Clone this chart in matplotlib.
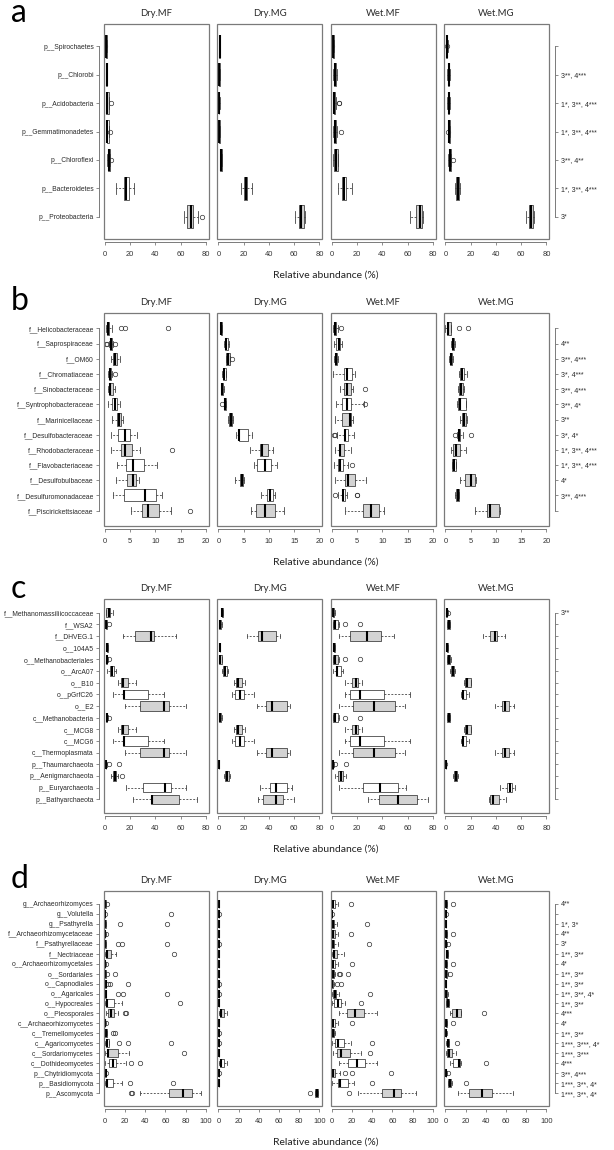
import matplotlib
matplotlib.use('Agg')
import matplotlib.pyplot as plt
from matplotlib.patches import Rectangle

plt.rcParams['font.family'] = ['Liberation Sans', 'DejaVu Sans']

# each row: (whisker low, q1, median, q3, whisker high, [outliers]) - listed top to bottom
groups = ["Dry.MF", "Dry.MG", "Wet.MF", "Wet.MG"]

# ---- panel a: phyla ----
a_cats = ["p__Spirochaetes", "p__Chlorobi", "p__Acidobacteria", "p__Gemmatimonadetes",
          "p__Chloroflexi", "p__Bacteroidetes", "p__Proteobacteria"]
a_sig = ["", "3**, 4***", "1*, 3**, 4***", "1*, 3**, 4***", "3**, 4**", "1*, 3**, 4***", "3*"]
a_dry_mf = [(0.8, 1.0, 1.2, 1.4, 1.6, [0.3]), (1.0, 1.2, 1.5, 1.8, 2.0, []),
            (0.8, 1.2, 2.0, 3.0, 3.5, [5.0]), (1.0, 1.5, 2.0, 3.0, 3.3, [4.0]),
            (2.0, 2.5, 3.0, 4.0, 4.3, [4.8]), (9.0, 15.0, 16.5, 19.0, 23.0, []),
            (63.0, 65.0, 68.0, 70.0, 74.0, [77.0])]
a_dry_mg = [(0.7, 0.8, 0.9, 1.0, 1.1, []), (0.6, 0.7, 0.8, 0.9, 1.0, []),
            (0.5, 0.6, 0.7, 0.8, 0.9, []), (0.6, 0.7, 0.8, 0.9, 1.0, []),
            (1.2, 1.5, 2.0, 3.0, 3.2, []), (18.0, 20.5, 21.5, 23.0, 27.0, []),
            (60.5, 63.5, 65.5, 67.5, 69.0, [])]
a_wet_mf = [(0.3, 0.5, 1.0, 1.5, 2.0, [0.0]), (1.0, 1.5, 2.5, 3.5, 4.0, []),
            (1.0, 1.5, 2.0, 2.5, 3.0, [5.5, 6.0]), (1.0, 1.5, 2.5, 3.5, 4.0, [7.5]),
            (1.0, 1.5, 3.5, 4.5, 5.0, []), (4.5, 8.0, 9.5, 11.0, 16.0, []),
            (62.0, 67.0, 69.5, 71.5, 72.5, [])]
a_wet_mg = [(0.3, 0.5, 1.0, 1.5, 2.0, [1.5]), (1.5, 2.0, 2.5, 3.0, 3.5, []),
            (1.5, 2.0, 2.5, 3.0, 3.5, []), (2.3, 2.5, 3.0, 3.5, 3.8, [1.8]),
            (2.3, 2.5, 3.5, 4.5, 4.8, [6.0]), (7.5, 8.0, 10.0, 11.0, 11.5, []),
            (64.0, 66.5, 67.5, 69.5, 70.5, [])]

# ---- panel b: bacterial families ----
b_cats = ["f__Helicobacteraceae", "f__Saprospiraceae", "f__OM60", "f__Chromatiaceae",
          "f__Sinobacteraceae", "f__Syntrophobacteraceae", "f__Marinicellaceae",
          "f__Desulfobacteraceae", "f__Rhodobacteraceae", "f__Flavobacteriaceae",
          "f__Desulfobulbaceae", "f__Desulfuromonadaceae", "f__Piscirickettsiaceae"]
b_sig = ["", "4**", "3**, 4***", "3*, 4***", "3**, 4***", "3**, 4*", "3**", "3*, 4*",
         "1*, 3**, 4***", "1*, 3**, 4***", "4*", "3**, 4***", ""]
b_dry_mf = [(0.2, 0.5, 0.7, 0.9, 1.5, [3.2, 4.0, 12.5]), (0.8, 1.0, 1.3, 1.5, 1.6, [0.3, 0.5, 1.9]),
            (1.2, 1.6, 1.9, 2.3, 3.0, []), (0.7, 0.9, 1.1, 1.3, 1.5, [2.0]),
            (0.6, 0.8, 1.1, 1.6, 1.9, []), (0.7, 1.5, 1.9, 2.3, 3.0, []),
            (1.5, 2.3, 2.8, 3.1, 3.5, []), (1.3, 2.6, 3.9, 4.9, 6.3, []),
            (1.3, 3.2, 3.9, 5.3, 6.9, [13.3]), (2.4, 4.2, 5.6, 7.7, 10.4, []),
            (2.2, 4.4, 5.5, 6.1, 6.7, []), (1.6, 3.8, 8.0, 10.2, 11.4, []),
            (5.1, 7.4, 8.6, 10.7, 13.0, [16.9])]
b_dry_mg = [(0.5, 0.5, 0.6, 0.7, 0.7, []), (1.1, 1.3, 1.6, 1.9, 2.0, []),
            (1.5, 1.6, 1.9, 2.2, 2.3, [2.6]), (0.8, 0.9, 1.2, 1.5, 1.6, []),
            (0.5, 0.6, 0.8, 1.0, 1.1, []), (1.2, 1.2, 1.4, 1.5, 1.6, [0.8]),
            (1.9, 2.1, 2.4, 2.7, 2.9, []), (3.4, 4.0, 4.1, 5.8, 6.6, []),
            (6.3, 8.2, 8.6, 9.9, 10.9, []), (7.0, 7.7, 9.3, 10.5, 11.6, []),
            (3.3, 4.3, 4.6, 4.9, 5.1, []), (8.5, 9.6, 10.3, 10.8, 11.2, []),
            (6.5, 7.4, 9.3, 11.2, 13.0, [])]
b_wet_mf = [(0.2, 0.4, 0.6, 0.9, 1.2, [1.8]), (0.5, 0.9, 1.5, 1.7, 2.0, []),
            (0.4, 0.6, 0.8, 1.1, 1.3, []), (0.3, 2.4, 2.9, 4.0, 4.6, []),
            (1.6, 2.4, 3.0, 3.8, 4.1, [6.5]), (0.8, 2.0, 2.9, 3.8, 6.3, [6.6]),
            (0.6, 2.0, 3.6, 3.7, 4.1, []), (1.0, 2.3, 2.6, 3.2, 4.4, [0.5, 0.6]),
            (0.7, 1.4, 1.7, 2.4, 3.7, []), (0.5, 1.3, 1.7, 2.2, 3.2, [4.0]),
            (0.6, 2.6, 3.1, 4.6, 6.8, []), (1.2, 1.9, 2.2, 2.6, 3.0, [0.7, 4.9, 5.0]),
            (2.5, 6.2, 7.7, 9.4, 10.3, [])]
b_wet_mg = [(0.0, 0.3, 0.6, 1.1, 1.2, [2.6, 4.4]), (1.2, 1.3, 1.5, 1.7, 1.8, []),
            (0.8, 0.9, 1.1, 1.4, 1.6, []), (2.6, 2.8, 3.3, 3.6, 4.2, []),
            (2.5, 2.7, 3.0, 3.4, 3.7, []), (2.2, 2.4, 2.8, 4.0, 4.1, []),
            (2.9, 3.3, 3.7, 4.0, 4.3, []), (2.2, 2.4, 2.7, 2.9, 3.5, [1.9, 5.1]),
            (1.1, 1.6, 2.0, 2.9, 4.0, []), (1.3, 1.4, 1.7, 2.0, 2.1, []),
            (2.8, 3.9, 5.0, 5.8, 6.0, []), (1.9, 2.1, 2.4, 2.6, 2.7, []),
            (5.9, 8.3, 8.9, 10.6, 10.8, [])]

# ---- panel c: archaea ----
c_cats = ["f__Methanomassiliicoccaceae", "f__WSA2", "f__DHVEG.1", "o__104A5",
          "o__Methanobacteriales", "o__ArcA07", "o__B10", "o__pGrfC26", "o__E2",
          "c__Methanobacteria", "c__MCG8", "c__MCG6", "c__Thermoplasmata",
          "p__Thaumarchaeota", "p__Aenigmarchaeota", "p__Euryarchaeota", "p__Bathyarchaeota"]
c_sig = ["3**", "", "", "", "", "", "", "", "", "", "", "", "", "", "", "", ""]
c_dry_mf = [(0.5, 0.7, 3.5, 4.0, 6.5, []), (0.3, 0.5, 1.0, 1.5, 2.0, [3.5]),
            (14.5, 24.0, 36.5, 39.0, 56.0, []), (1.5, 1.7, 2.0, 2.3, 2.5, []),
            (0.8, 1.0, 1.5, 2.0, 2.3, [3.5]), (2.0, 4.0, 5.5, 7.0, 9.0, []),
            (10.5, 13.0, 14.5, 18.0, 24.5, []), (6.5, 14.0, 15.0, 34.5, 47.0, []),
            (16.0, 28.0, 47.0, 51.0, 64.0, []), (0.8, 1.0, 1.5, 2.0, 2.3, [3.5]),
            (10.5, 13.0, 14.5, 18.0, 24.5, []), (6.5, 14.0, 15.0, 34.5, 47.0, []),
            (16.0, 28.0, 47.0, 51.0, 64.0, []), (0.3, 0.5, 0.8, 1.0, 1.3, [3.0, 11.0]),
            (4.5, 6.5, 8.0, 9.0, 10.0, [13.5]), (16.5, 30.0, 47.5, 52.0, 64.5, []),
            (22.0, 36.5, 37.5, 59.0, 73.0, [])]
c_dry_mg = [(2.5, 2.6, 3.0, 3.4, 3.5, []), (0.5, 0.7, 1.2, 2.0, 3.0, []),
            (23.0, 31.0, 34.5, 46.0, 49.0, []), (0.8, 0.9, 1.0, 1.1, 1.2, []),
            (0.5, 0.8, 1.5, 2.5, 3.0, []), (3.0, 3.5, 5.0, 6.5, 7.5, []),
            (12.5, 14.0, 15.5, 18.5, 21.0, []), (10.5, 13.0, 17.0, 20.0, 28.5, []),
            (30.5, 38.0, 42.5, 54.0, 57.0, []), (0.5, 0.7, 1.2, 2.0, 3.0, []),
            (12.5, 14.0, 15.5, 18.5, 21.0, []), (10.5, 13.0, 17.0, 20.0, 28.5, []),
            (30.5, 38.0, 42.5, 54.0, 57.0, []), (0.3, 0.4, 0.5, 0.6, 0.7, []),
            (4.5, 5.0, 7.0, 8.0, 9.5, []), (33.0, 41.0, 45.5, 54.0, 58.0, []),
            (31.0, 35.5, 46.0, 51.5, 60.0, [])]
c_wet_mf = [(0.3, 0.5, 1.0, 2.0, 2.5, []), (0.5, 1.0, 2.5, 4.5, 5.5, [10.5, 22.5]),
            (5.5, 14.5, 27.5, 38.5, 49.0, []), (1.2, 1.5, 2.0, 2.3, 2.6, []),
            (0.5, 1.0, 2.5, 5.0, 6.0, [10.5, 22.5]), (0.5, 3.0, 4.0, 7.0, 9.0, []),
            (10.0, 16.0, 19.0, 21.0, 24.0, []), (10.5, 14.5, 22.0, 41.0, 61.5, []),
            (5.5, 16.5, 33.5, 50.0, 58.0, []), (0.5, 1.0, 2.5, 4.5, 5.5, [10.5, 22.5]),
            (10.0, 16.0, 19.0, 21.0, 24.0, []), (10.5, 14.5, 22.0, 41.0, 61.5, []),
            (5.5, 16.5, 33.5, 50.0, 58.0, []), (0.2, 0.4, 0.6, 1.0, 1.3, [2.5, 11.5]),
            (2.5, 5.0, 7.0, 9.0, 11.0, []), (5.5, 25.0, 38.0, 52.0, 59.0, []),
            (28.5, 37.0, 52.0, 67.5, 76.0, [])]
c_wet_mg = [(0.3, 0.5, 1.0, 1.5, 1.7, [2.3]), (1.2, 1.5, 2.5, 3.5, 3.8, []),
            (29.5, 35.5, 39.0, 41.0, 47.0, []), (1.2, 1.3, 1.5, 1.7, 1.8, []),
            (1.0, 1.5, 2.5, 4.0, 4.3, []), (4.0, 4.5, 6.0, 7.0, 7.5, []),
            (14.5, 15.5, 17.5, 20.0, 20.5, []), (12.0, 13.0, 14.0, 16.0, 19.0, []),
            (39.0, 44.5, 47.0, 50.0, 54.0, []), (1.2, 1.5, 2.5, 3.5, 3.8, []),
            (14.5, 15.5, 17.5, 20.0, 20.5, []), (12.0, 13.0, 14.0, 16.0, 19.0, []),
            (39.0, 44.5, 47.0, 50.0, 54.0, []), (0.2, 0.3, 0.4, 0.5, 0.6, [0.0]),
            (6.0, 6.5, 8.0, 9.5, 10.0, []), (43.5, 48.5, 51.0, 52.5, 55.0, []),
            (34.5, 35.5, 38.0, 42.5, 48.0, [])]

# ---- panel d: fungi ----
d_cats = ["g__Archaeorhizomyces", "g__Volutella", "g__Psathyrella", "f__Archaeorhizomycetaceae",
          "f__Psathyrellaceae", "f__Nectriaceae", "o__Archaeorhizomycetales", "o__Sordariales",
          "o__Capnodiales", "o__Agaricales", "o__Hypocreales", "o__Pleosporales",
          "c__Archaeorhizomycetes", "c__Tremellomycetes", "c__Agaricomycetes",
          "c__Sordariomycetes", "c__Dothideomycetes", "p__Chytridiomycota",
          "p__Basidiomycota", "p__Ascomycota"]
d_sig = ["4**", "", "1*, 3*", "4**", "3*", "1**, 3**", "4*", "1**, 3**", "1**, 3**",
         "1**, 3**, 4*", "1**, 3**", "4***", "4*", "1**, 3**", "1***, 3***, 4*",
         "1***, 3***", "4***", "3**, 4***", "1***, 3**, 4*", "1***, 3**, 4*"]
d_dry_mf = [(0.2, 0.3, 0.5, 0.8, 1.0, [1.8]), (0.0, 0.1, 0.2, 0.4, 0.5, [0.3, 65.5]),
            (0.2, 0.3, 0.5, 0.8, 1.0, [14.5, 61.0]), (0.1, 0.2, 0.3, 0.5, 0.6, [1.5]),
            (0.2, 0.3, 0.5, 0.8, 1.0, [13.0, 17.0, 61.0]), (0.5, 1.0, 2.0, 6.0, 10.5, [68.0]),
            (0.1, 0.2, 0.3, 0.5, 0.6, [1.5]), (0.2, 0.3, 0.5, 0.8, 1.0, [2.0, 10.0]),
            (0.3, 0.5, 0.8, 1.2, 1.5, [3.0, 5.0, 22.5]), (0.2, 0.4, 0.6, 1.0, 1.2, [13.0, 18.0, 61.0]),
            (0.5, 1.0, 2.0, 9.0, 17.0, [74.0]), (1.0, 3.0, 6.0, 9.0, 13.0, [19.5, 21.0]),
            (0.1, 0.2, 0.3, 0.5, 0.6, [1.5]), (0.3, 0.5, 1.0, 2.0, 2.3, [8.5, 9.5]),
            (0.5, 1.0, 2.0, 4.0, 4.5, [14.0, 22.5, 65.0]), (0.5, 2.0, 3.5, 13.0, 24.0, [78.0]),
            (0.5, 4.0, 8.5, 11.0, 21.0, [26.0, 35.0]), (0.3, 0.5, 0.8, 1.0, 1.2, [1.3]),
            (0.5, 1.0, 2.5, 8.0, 17.0, [25.0, 67.0]), (35.0, 63.0, 77.0, 86.0, 95.0, [25.5, 26.5])]
d_dry_mg = [(0.2, 0.2, 0.3, 0.4, 0.5, []), (0.2, 0.2, 0.3, 0.4, 0.5, [0.3]),
            (0.2, 0.2, 0.3, 0.4, 0.5, []), (0.2, 0.2, 0.3, 0.4, 0.5, []),
            (0.2, 0.2, 0.3, 0.4, 0.5, [0.3]), (0.2, 0.2, 0.3, 0.4, 0.5, []),
            (0.2, 0.2, 0.3, 0.4, 0.5, []), (0.2, 0.2, 0.3, 0.4, 0.5, []),
            (0.2, 0.2, 0.3, 0.4, 0.5, [0.3]), (0.2, 0.2, 0.3, 0.4, 0.5, [0.3]),
            (0.2, 0.2, 0.3, 0.4, 0.5, []), (1.0, 1.5, 3.0, 6.0, 8.5, []),
            (0.2, 0.2, 0.3, 0.4, 0.5, []), (0.2, 0.2, 0.3, 0.4, 0.5, [0.3]),
            (0.2, 0.2, 0.3, 0.4, 0.5, [0.3]), (0.2, 0.2, 0.3, 0.4, 0.5, []),
            (1.0, 1.5, 3.0, 5.5, 8.5, []), (0.2, 0.2, 0.3, 0.4, 0.5, [0.3]),
            (0.2, 0.2, 0.3, 0.4, 0.5, []), (95.5, 96.0, 97.5, 98.5, 99.0, [90.8])]
d_wet_mf = [(0.0, 0.3, 0.8, 3.0, 6.0, [19.0]), (0.0, 0.1, 0.2, 0.4, 0.5, [0.3]),
            (0.0, 0.3, 0.8, 2.0, 5.0, [35.0]), (0.0, 0.3, 0.8, 3.0, 6.0, [19.0]),
            (0.0, 0.3, 0.8, 2.0, 6.0, [37.0]), (0.0, 1.0, 2.5, 5.0, 12.0, []),
            (0.0, 0.3, 0.8, 3.0, 6.0, [20.0]), (0.0, 0.3, 1.0, 2.0, 3.0, [7.0, 8.0, 15.5]),
            (0.0, 0.2, 0.5, 1.5, 2.0, [5.0, 9.0]), (0.5, 1.5, 3.0, 4.5, 7.0, [38.0]),
            (0.0, 2.0, 6.0, 9.0, 13.0, [28.5]), (7.0, 15.0, 23.0, 32.0, 45.0, []),
            (0.0, 0.3, 0.8, 3.0, 6.0, [20.0]), (0.0, 0.3, 1.0, 2.0, 3.0, []),
            (0.5, 3.0, 6.0, 12.0, 19.0, [39.5]), (1.0, 5.0, 9.0, 18.0, 29.0, [38.0]),
            (7.0, 16.0, 25.0, 33.0, 45.0, []), (0.0, 0.5, 1.5, 3.5, 8.0, [12.5, 20.0, 59.0]),
            (0.5, 6.0, 8.5, 16.0, 22.0, [40.0]), (26.0, 50.0, 61.0, 68.0, 83.0, [16.5])]
d_wet_mg = [(0.0, 0.3, 0.8, 1.5, 1.8, [8.0]), (0.0, 0.1, 0.2, 0.4, 0.5, [0.3]),
            (0.0, 0.2, 0.4, 0.7, 0.8, []), (0.0, 0.3, 0.8, 1.5, 1.8, [8.0]),
            (0.2, 0.4, 0.7, 1.0, 1.2, [2.5]), (0.3, 0.5, 1.5, 2.5, 3.0, []),
            (0.0, 0.3, 0.8, 1.5, 1.8, [8.0]), (0.0, 0.3, 0.8, 2.0, 2.3, [5.0]),
            (0.0, 0.1, 0.3, 0.5, 0.6, []), (0.3, 0.5, 1.0, 2.0, 2.5, []),
            (0.8, 1.0, 2.5, 3.5, 4.0, []), (5.0, 7.0, 11.0, 15.0, 15.5, [38.0]),
            (0.0, 0.3, 0.8, 1.5, 1.8, [8.0]), (0.0, 0.2, 0.5, 1.0, 1.5, []),
            (1.0, 1.5, 2.5, 3.5, 4.0, [11.0]), (1.0, 2.0, 4.0, 7.0, 10.0, []),
            (5.0, 8.0, 13.0, 14.0, 15.0, [40.0]), (0.0, 0.2, 0.5, 1.0, 1.2, [3.0]),
            (2.5, 3.0, 4.5, 6.0, 6.5, [20.0]), (12.0, 23.0, 36.0, 46.0, 67.0, [])]

W, H = 614, 1150
FRAME = '#7a7a7a'

fig = plt.figure(figsize=(W / 100, H / 100), dpi=100)

panel_left = [103.5, 217.0, 330.5, 444.0]
panel_w = 105.0


def to_stats(rows):
    return [dict(whislo=r[0], q1=r[1], med=r[2], q3=r[3], whishi=r[4], fliers=r[5]) for r in rows]


def draw_panel(letter, top, bottom, letter_y, cats, sig, data, xmax, step):
    n = len(cats)
    pos = [n - i for i in range(n)]
    fills = ['#d3d3d3' if (n - 1 - i) % 2 == 0 else 'white' for i in range(n)]
    ticks = list(range(0, xmax + 1, step))
    for j, rows in enumerate(data):
        ax = fig.add_axes([panel_left[j] / W, 1 - bottom / H, panel_w / W, (bottom - top) / H])
        bp = ax.bxp(to_stats(rows), positions=pos, widths=0.8, orientation='horizontal',
                    patch_artist=True, capwidths=0.4,
                    boxprops=dict(edgecolor='#222222', linewidth=0.5),
                    medianprops=dict(color='black', linewidth=1.5, solid_capstyle='butt'),
                    whiskerprops=dict(color='#333333', linewidth=0.55, linestyle=(0, (2.5, 2))),
                    capprops=dict(color='#333333', linewidth=0.55),
                    flierprops=dict(marker='o', markerfacecolor='none', markeredgecolor='#333333',
                                    markersize=3.2, markeredgewidth=0.5))
        for box, fc in zip(bp['boxes'], fills):
            box.set_facecolor(fc)
        ax.set_xlim(-0.014 * xmax, 1.026 * xmax)
        ax.set_ylim(0.5 - 0.04 * n, n + 0.5 + 0.04 * n)
        for s in ['top', 'right']:
            ax.spines[s].set_visible(False)
        ax.spines['bottom'].set_position(('outward', 2.5))
        ax.spines['bottom'].set_bounds(0, xmax)
        ax.spines['bottom'].set_color(FRAME)
        ax.spines['bottom'].set_linewidth(0.7)
        ax.set_xticks(ticks)
        ax.set_xticklabels([str(t) for t in ticks])
        ax.tick_params(axis='x', length=2.5, width=0.6, color=FRAME, pad=3.5,
                       labelsize=5.4, labelcolor='#333333')
        if j == 0:
            ax.spines['left'].set_position(('outward', 3))
            ax.spines['left'].set_bounds(1, n)
            ax.spines['left'].set_color(FRAME)
            ax.spines['left'].set_linewidth(0.7)
            ax.set_yticks(pos)
            ax.set_yticklabels(cats)
            ax.tick_params(axis='y', length=2.5, width=0.6, color=FRAME, pad=1.5,
                           labelsize=4.9, labelcolor='#2a2a2a')
        else:
            ax.spines['left'].set_visible(False)
            ax.set_yticks([])
        ax.add_patch(Rectangle((0, 0), 1, 1, transform=ax.transAxes, fill=False,
                               edgecolor=FRAME, linewidth=0.9, clip_on=False, zorder=6))
        fig.text((panel_left[j] + panel_w / 2) / W, 1 - (top - 10.5) / H, groups[j],
                 ha='center', va='center', fontsize=6.8, color='#2a2a2a', family='Lato')
        if j == 3:
            ax2 = ax.twinx()
            ax2.set_ylim(ax.get_ylim())
            for s in ['top', 'bottom', 'left']:
                ax2.spines[s].set_visible(False)
            ax2.spines['right'].set_position(('outward', 4.5))
            ax2.spines['right'].set_bounds(1, n)
            ax2.spines['right'].set_color(FRAME)
            ax2.spines['right'].set_linewidth(0.7)
            ax2.set_yticks(pos)
            ax2.set_yticklabels(sig)
            ax2.tick_params(axis='y', length=2.5, width=0.6, color=FRAME, pad=1.5,
                            labelsize=5.1, labelcolor='#2a2a2a')
    fig.text(326 / W, 1 - (bottom + 36) / H, "Relative abundance (%)", ha='center', va='center',
             fontsize=7.5, color='#222222', family='Lato')
    fig.text(11 / W, 1 - letter_y / H, letter, ha='left', va='baseline', fontsize=23,
             color='black', family='Lato')


draw_panel('a', 24, 239, 22, a_cats, a_sig, [a_dry_mf, a_dry_mg, a_wet_mf, a_wet_mg], 80, 20)
draw_panel('b', 313, 526, 310, b_cats, b_sig, [b_dry_mf, b_dry_mg, b_wet_mf, b_wet_mg], 20, 5)
draw_panel('c', 599, 813, 598, c_cats, c_sig, [c_dry_mf, c_dry_mg, c_wet_mf, c_wet_mg], 80, 20)
draw_panel('d', 891, 1106, 888, d_cats, d_sig, [d_dry_mf, d_dry_mg, d_wet_mf, d_wet_mg], 100, 20)

fig.savefig('out.png', dpi=100)
